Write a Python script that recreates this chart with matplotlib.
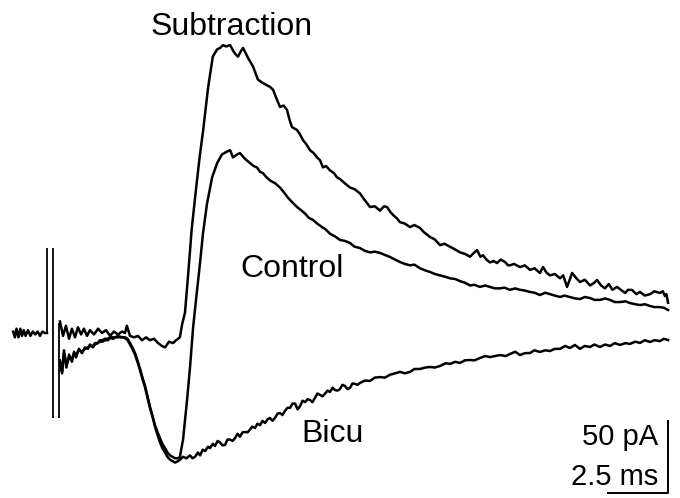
import matplotlib.pyplot as plt
import numpy as np

# time in ms, current in pA (stimulus at t = 0)
pre_t = [-1.62, -1.55, -1.48, -1.4, -1.32, -1.25, -1.18, -1.1, -1.0, -0.9, -0.8, -0.7, -0.6, -0.5, -0.4, -0.3, -0.21]
pre_i = [1, -3, 3, -3, 3, -2, 2, -2, 2, -2, 1, -1, 1, -2, 1, 0, 0]

# stimulus artifact (vertical strokes)
art_t = [-0.21, 0.04, 0.29]
art_top = [59, 59, 7]
art_bottom = [0, -59, -59]

sub_t = [0.33, 0.46, 0.58, 0.71, 0.83, 0.96, 1.08, 1.21, 1.33, 1.46, 1.58, 1.75, 1.92, 2.08, 2.25, 2.42,
         2.58, 2.75, 2.92, 3.04, 3.12, 3.25, 3.42, 3.58, 3.75, 3.92, 4.08, 4.25, 4.42, 4.58, 4.71, 4.88,
         5.04, 5.17, 5.33, 5.42, 5.54, 5.67, 5.82, 6.0, 6.15, 6.3, 6.5, 6.7, 6.88, 7.0, 7.13, 7.25, 7.42,
         7.55, 7.63, 7.75, 7.88, 7.96, 8.08, 8.17, 8.38, 8.58, 8.75, 8.96, 9.08, 9.21, 9.35, 9.5, 9.65,
         9.79, 9.9, 10.0, 10.21, 10.33, 10.46, 10.6, 10.75, 10.9, 11.04, 11.17, 11.29, 11.42, 11.58, 11.75,
         11.88, 12.0, 12.2, 12.42, 12.6, 12.83, 13.0, 13.25, 13.45, 13.67, 13.83, 13.96, 14.1, 14.21, 14.35,
         14.5, 14.7, 14.92, 15.1, 15.33, 15.5, 15.75, 15.95, 16.17, 16.35, 16.58, 16.8, 17.0, 17.2, 17.42,
         17.6, 17.71, 17.85, 17.96, 18.1, 18.25, 18.4, 18.54, 18.7, 18.88, 19.0, 19.08, 19.25, 19.5, 19.7,
         19.92, 20.1, 20.33, 20.46, 20.6, 20.75, 20.95, 21.17, 21.3, 21.46, 21.55, 21.67, 21.85, 22.0, 22.2,
         22.42, 22.6, 22.71, 22.88, 23.04, 23.2, 23.35, 23.54, 23.7, 23.88, 24.0, 24.17, 24.35, 24.5, 24.7,
         24.92, 25.1, 25.33, 25.45, 25.54, 25.6, 25.67]
sub_i = [8, -2, 5, -4, 3, -3, 4, -1, 3, -2, 2, -1, 3, 0, 2, -2,
         1, -1, 1, 0, 5, -2, -3, -2, -5, -3, -5, -4, -7, -9, -10, -6,
         -7, -5, -3, 6, 14, 40, 72, 100, 122, 141, 170, 192, 197, 198, 200, 199, 200,
         196, 194, 192, 196, 198, 194, 191, 185, 176, 174, 172, 171, 169, 163, 157, 158,
         155, 148, 143, 141, 138, 134, 131, 127, 125, 122, 120, 115, 116, 113, 111,
         108, 107, 104, 101, 100, 97, 93, 87.5, 88, 85, 88, 87.5, 84, 82, 80,
         77, 76, 73.6, 75, 73, 70, 66.7, 65, 61, 62, 60, 58, 56, 55, 53,
         56, 57.6, 53, 54, 51, 49, 50, 48.6, 51, 49.3, 47, 47, 48, 45.8, 47,
         43.8, 45, 41.7, 45.8, 42, 40, 41, 38, 40, 32, 36, 41.7, 38, 35.4, 37,
         33, 35, 36.8, 33, 31, 34, 30, 32, 30, 27.8, 30, 29.9, 27, 28.5, 26,
         27, 29, 27.8, 29, 25.7, 27, 21]

ctl_t = [0.33, 0.42, 0.5, 0.6, 0.71, 0.83, 0.92, 1.0, 1.12, 1.25, 1.37, 1.5, 1.58, 1.7, 1.79, 1.9,
         2.0, 2.1, 2.21, 2.33, 2.42, 2.55, 2.63, 2.75, 2.83, 2.95, 3.04, 3.15, 3.25, 3.35, 3.46, 3.56,
         3.67, 3.77, 3.88, 3.98, 4.08, 4.19, 4.29, 4.4, 4.5, 4.6, 4.71, 4.81, 4.92, 5.02, 5.13, 5.25,
         5.33, 5.46, 5.63, 5.75, 5.88, 6.0, 6.17, 6.29, 6.46, 6.67, 6.88, 7.08, 7.29, 7.42, 7.54, 7.71,
         7.83, 8.04, 8.25, 8.4, 8.54, 8.67, 8.79, 8.95, 9.08, 9.3, 9.5, 9.65, 9.83, 10.0, 10.21, 10.4,
         10.54, 10.7, 10.88, 11.05, 11.25, 11.4, 11.58, 11.8, 12.0, 12.2, 12.42, 12.6, 12.83, 13.05, 13.25,
         13.45, 13.67, 13.9, 14.08, 14.3, 14.5, 14.7, 14.92, 15.1, 15.33, 15.55, 15.75, 15.95, 16.17, 16.4,
         16.58, 16.8, 17.0, 17.2, 17.42, 17.6, 17.83, 18.05, 18.25, 18.45, 18.67, 18.85, 19.08, 19.3, 19.5,
         19.7, 19.92, 20.1, 20.33, 20.55, 20.75, 20.95, 21.17, 21.35, 21.58, 21.8, 22.0, 22.2, 22.42, 22.6,
         22.83, 23.05, 23.25, 23.45, 23.67, 23.9, 24.08, 24.3, 24.5, 24.7, 24.92, 25.1, 25.33, 25.5, 25.67]
ctl_i = [-19, -27, -12, -24, -15, -20, -13, -17, -11, -14, -10, -11, -8, -10, -8, -7,
         -6, -6, -5, -5, -3.5, -4, -3, -3, -2.5, -3, -3.5, -5, -8, -11, -15, -20,
         -26, -32, -38, -45, -52, -58, -64, -69, -73, -77, -80, -83, -85, -86, -87, -87,
         -86, -74, -46, -24, 4, 23, 49, 69, 90, 108, 118, 124, 126, 127, 122, 124,
         125, 121, 118, 116, 115, 112, 111, 108, 106, 104, 101, 98, 94, 91, 87.5, 85,
         83, 80, 78.5, 76, 73.6, 72, 69, 67, 64.6, 64, 62.5, 60, 59, 57, 56,
         56.5, 55.6, 54, 52.8, 51, 49.3, 48, 47, 47.5, 45, 43.5, 42.4, 41, 40, 39,
         38, 37.5, 36, 35, 33, 33.5, 32, 33, 32, 31, 31, 31.5, 30, 31, 30,
         29.5, 28.5, 28, 26.4, 28, 27, 26, 25, 26, 25, 24, 23.6, 25, 24.3, 23,
         23, 24, 23, 21.5, 21.5, 22, 20.8, 20, 19.4, 20, 18.75, 18, 18, 17.5, 16]

bic_t = [0.33, 0.42, 0.5, 0.6, 0.71, 0.83, 0.92, 1.0, 1.12, 1.25, 1.37, 1.5, 1.58, 1.7, 1.79, 1.9,
         2.0, 2.1, 2.21, 2.33, 2.42, 2.55, 2.63, 2.75, 2.83, 2.95, 3.04, 3.15, 3.25, 3.35, 3.46, 3.56,
         3.67, 3.77, 3.88, 3.98, 4.08, 4.19, 4.29, 4.4, 4.5, 4.6, 4.71, 4.81, 4.92, 5.02, 5.13, 5.25,
         5.33, 5.46, 5.6, 5.75, 5.85, 5.96, 6.08, 6.17, 6.28, 6.38, 6.5, 6.58, 6.7, 6.79, 6.9, 7.0,
         7.1, 7.21, 7.31, 7.42, 7.52, 7.63, 7.73, 7.83, 7.94, 8.04, 8.15, 8.25, 8.35, 8.46, 8.56, 8.67,
         8.77, 8.88, 8.98, 9.08, 9.19, 9.29, 9.4, 9.5, 9.6, 9.71, 9.81, 9.92, 10.02, 10.13, 10.23, 10.33,
         10.44, 10.54, 10.65, 10.75, 10.85, 10.96, 11.06, 11.17, 11.27, 11.38, 11.48, 11.58, 11.69, 11.79,
         11.9, 12.0, 12.1, 12.21, 12.31, 12.42, 12.52, 12.63, 12.73, 12.83, 13.04, 13.25, 13.45, 13.67,
         13.87, 14.08, 14.3, 14.5, 14.7, 14.92, 15.1, 15.33, 15.55, 15.75, 15.95, 16.17, 16.4, 16.58, 16.8,
         17.0, 17.2, 17.42, 17.6, 17.83, 18.05, 18.25, 18.45, 18.67, 18.9, 19.08, 19.3, 19.5, 19.7, 19.92,
         20.1, 20.33, 20.55, 20.75, 20.95, 21.17, 21.38, 21.58, 21.79, 22.0, 22.2, 22.42, 22.6, 22.83,
         23.05, 23.25, 23.45, 23.67, 23.9, 24.08, 24.3, 24.5, 24.7, 24.92, 25.1, 25.33, 25.5, 25.67]
bic_i = [-20, -28, -14, -22, -17, -18, -14, -15, -12, -13, -11, -10, -9, -9, -7, -7,
         -5, -5, -4, -4, -3, -3, -3, -2, -3, -3, -3, -4, -7, -10, -14, -19,
         -25, -31, -37, -44, -51, -58, -65, -71, -76, -80, -83, -86, -88, -89, -90, -89,
         -88, -86, -87, -85, -87, -86, -83, -85, -81, -82, -79, -80, -77, -78.5, -75, -76,
         -78, -77.8, -74, -74, -75, -73, -70, -72, -69, -68.75, -69, -67, -65, -66, -63, -64,
         -61, -62.5, -60, -59, -61, -59, -56, -55.6, -57, -54, -52, -52, -49, -49, -53, -51,
         -47, -48, -46, -46.5, -48, -45, -42, -43, -44, -42, -40, -41, -38, -39.6,
         -40, -38.9, -36, -36.8, -39, -38, -35, -35.4, -36, -34.7, -33, -33.3, -31, -30.6,
         -31, -29, -28, -27, -28, -27, -25, -25, -24, -23.6, -24, -22.9, -21, -21.5, -20,
         -20.8, -19, -18.75, -19, -17.4, -16, -16.7, -16, -15.3, -16, -14.6, -13, -15.3, -14, -13.9,
         -12, -13.2, -12, -12.5, -11, -11, -9, -10.4, -8.3, -11, -9, -9.7, -8, -9.7,
         -8, -9, -7, -8.3, -7, -7.6, -6, -6.9, -5, -6.25, -5, -5.6, -4, -4.9]

labels = ["Subtraction", "Control", "Bicu"]
label_t = [7.5, 10.0, 11.7]
label_i = [207, 39, -76]

bar_ms = 2.5
bar_pa = 50

plt.rcParams['font.family'] = ['Liberation Sans', 'DejaVu Sans']

fig = plt.figure(figsize=(6.8, 4.98), dpi=100)
ax = fig.add_axes([0, 0, 1, 1])
ax.set_xlim(-2.167, 26.167)
ax.set_ylim(-114.6, 231.3)
ax.axis('off')

lw = 1.8
ax.plot(pre_t, pre_i, color='black', lw=lw)
ax.vlines(art_t, art_bottom, art_top, color='black', lw=1.3)
ax.plot(bic_t, bic_i, color='black', lw=lw)
ax.plot(ctl_t, ctl_i, color='black', lw=lw)
ax.plot(sub_t, sub_i, color='black', lw=lw)

for name, t, i in zip(labels, label_t, label_i):
    ax.text(t, i, name, ha='center', va='baseline', fontsize=23, color='black')

# scale bar
x_end = 25.67
y_bot = -111.1
ax.plot([x_end - bar_ms, x_end, x_end], [y_bot, y_bot, y_bot + bar_pa], color='black', lw=1.4)
ax.text(25.25, -77.8, "50 pA", ha='right', va='baseline', fontsize=21)
ax.text(25.25, -105.6, "2.5 ms", ha='right', va='baseline', fontsize=21)

plt.savefig("out.png", dpi=100)
